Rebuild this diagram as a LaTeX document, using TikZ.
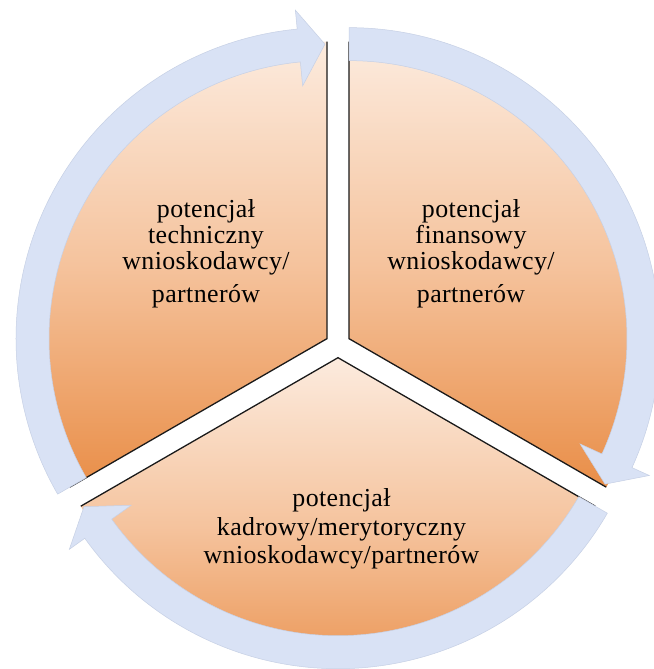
\documentclass[tikz,border=0pt]{standalone}
\usepackage{fontspec}
\setmainfont[LetterSpace=1.5]{Liberation Serif}
\definecolor{sectop}{HTML}{FCEBDE}
\definecolor{secmid}{HTML}{F5C39D}
\definecolor{secbot}{HTML}{E98E48}
\definecolor{ringfill}{HTML}{D9E2F5}
\definecolor{ringedge}{HTML}{C6D0E5}
\definecolor{edgeline}{HTML}{1A1A1A}
\tikzset{
  sector/.style={top color=sectop, bottom color=secbot, middle color=secmid, shading=axis},
  sectoredge/.style={draw=edgeline, line width=1.3bp, line join=miter},
  ringarrow/.style={fill=ringfill, draw=ringedge, line width=0.5bp, line join=miter},
  lbl/.style={anchor=base, inner sep=0pt, font=\fontsize{26}{28}\selectfont, text=black}
}
\begin{document}
\begin{tikzpicture}[x=1bp,y=1bp]
\useasboundingbox (-338,-324) rectangle (316,345);
\fill[white] (-338,-324) rectangle (316,345);
% sectors
\begin{scope}[shift={(-11,6.35)}]
  \coordinate (ctl) at (0,0);
  \shade[sector] (0,0) -- (90:297bp) arc[start angle=90,end angle=210,radius=297bp] -- cycle;
  \draw[sectoredge] (90:297bp) -- (0,0) -- (210:297bp);
\end{scope}
\begin{scope}[shift={(11,6.35)}]
  \coordinate (ctr) at (0,0);
  \shade[sector] (0,0) -- (-30:297bp) arc[start angle=-30,end angle=90,radius=297bp] -- cycle;
  \draw[sectoredge] (90:297bp) -- (0,0) -- (-30:297bp);
\end{scope}
\begin{scope}[shift={(0,-12.7)}]
  \coordinate (cb) at (0,0);
  \shade[sector] (0,0) -- (210:297bp) arc[start angle=210,end angle=330,radius=297bp] -- cycle;
  \draw[sectoredge] (210:297bp) -- (0,0) -- (330:297bp);
\end{scope}
% ring arrows
\begin{scope}[shift={(-11,6.35)}]
  \draw[ringarrow] (210:311bp) arc[start angle=210,end angle=95.5,radius=311bp]
    -- (95.5:330bp) -- (90.4:294.5bp) -- (95.5:254bp) -- (95.5:278bp)
    arc[start angle=95.5,end angle=210,radius=278bp] -- cycle;
\end{scope}
\begin{scope}[shift={(11,6.35)}]
  \draw[ringarrow] (90:311bp) arc[start angle=90,end angle=-24.5,radius=311bp]
    -- (-24.5:330bp) -- (-29.6:294.5bp) -- (-24.5:254bp) -- (-24.5:278bp)
    arc[start angle=-24.5,end angle=90,radius=278bp] -- cycle;
\end{scope}
\begin{scope}[shift={(0,-12.7)}]
  \draw[ringarrow] (330:311bp) arc[start angle=330,end angle=215.5,radius=311bp]
    -- (215.5:330bp) -- (210.4:294.5bp) -- (215.5:254bp) -- (215.5:278bp)
    arc[start angle=215.5,end angle=330,radius=278bp] -- cycle;
\end{scope}
% labels
\node[lbl] (tl1) at (-132,127) {potencjał};
\node[lbl] (tl2) at (-132,101) {techniczny};
\node[lbl] (tl3) at (-132,75) {wnioskodawcy/};
\node[lbl] (tl4) at (-132,42) {partnerów};
\node[lbl] (tr1) at (133,127) {potencjał};
\node[lbl] (tr2) at (133,101) {finansowy};
\node[lbl] (tr3) at (133,75) {wnioskodawcy/};
\node[lbl] (tr4) at (133,42) {partnerów};
\node[lbl] (b1) at (3.5,-161) {potencjał};
\node[lbl] (b2) at (3.5,-190) {kadrowy/merytoryczny};
\node[lbl] (b3) at (3.5,-218) {wnioskodawcy/partnerów};
\end{tikzpicture}
\end{document}
